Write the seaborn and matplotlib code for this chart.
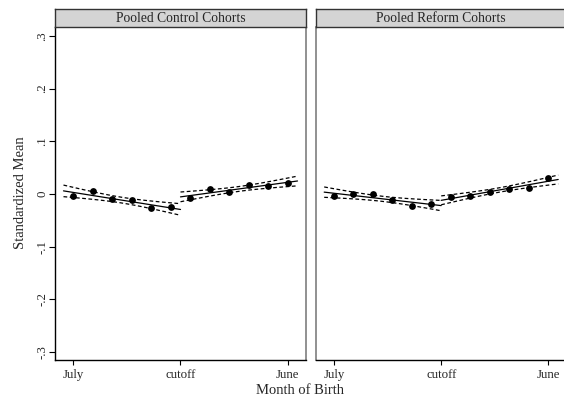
import numpy as np
import pandas as pd
import matplotlib
matplotlib.use("Agg")
import matplotlib.pyplot as plt
import seaborn as sns

sns.set_theme(style="white")
plt.rcParams["font.family"] = ["Liberation Serif", "DejaVu Serif"]

# ---- data ----
months = [1, 2, 3, 4, 5, 6, 7, 8, 9, 10, 11, 12]
control_means = [-0.004, 0.006, -0.009, -0.011, -0.027, -0.025,
                 -0.008, 0.009, 0.003, 0.018, 0.016, 0.020]
reform_means = [-0.004, 0.000, 0.001, -0.012, -0.022, -0.018,
                -0.005, -0.004, 0.004, 0.010, 0.011, 0.031]
panel_titles = ["Pooled Control Cohorts", "Pooled Reform Cohorts"]
xtick_pos = [1, 6.5, 12]
xtick_labels = ["July", "cutoff", "June"]
ytick_pos = [-0.3, -0.2, -0.1, 0.0, 0.1, 0.2, 0.3]
ytick_labels = ["-.3", "-.2", "-.1", "0", ".1", ".2", ".3"]
cutoff = 6.5
seg_ranges = [(0.5, 6.5), (6.5, 12.5)]

W, H = 564, 403
fig = plt.figure(figsize=(W / 100, H / 100), dpi=100)


def fcoords(x0, y0, x1, y1):
    return [x0 / W, 1 - y1 / H, (x1 - x0) / W, (y1 - y0) / H]


def fit_segment(x, y, lo, hi):
    x = np.asarray(x, float)
    y = np.asarray(y, float)
    b, a = np.polyfit(x, y, 1)
    res = y - (a + b * x)
    s = np.sqrt(np.sum(res ** 2) / (len(x) - 2))
    xm = x.mean()
    sxx = np.sum((x - xm) ** 2)
    xs = np.linspace(lo, hi, 60)
    yh = a + b * xs
    se = s * np.sqrt(1 / len(x) + (xs - xm) ** 2 / sxx)
    return xs, yh, yh - 1.96 * se, yh + 1.96 * se


panels = [(55.3, 305.7), (316.0, 566.4)]
datasets = [control_means, reform_means]

for i, ((x0, x1), vals, title) in enumerate(zip(panels, datasets, panel_titles)):
    ax = fig.add_axes(fcoords(x0, 27, x1, 360))
    df = pd.DataFrame({"month": months, "mean": vals})
    for lo, hi in seg_ranges:
        sub = df[(df["month"] > lo) & (df["month"] < hi)]
        xs, yh, ylo, yhi = fit_segment(sub["month"], sub["mean"], lo, hi)
        sns.lineplot(x=xs, y=yh, ax=ax, color="black", lw=0.9)
        ax.plot(xs, ylo, color="black", lw=0.9, ls=(0, (3, 2)))
        ax.plot(xs, yhi, color="black", lw=0.9, ls=(0, (3, 2)))
    sns.scatterplot(data=df, x="month", y="mean", ax=ax, color="black",
                    s=24, edgecolor="black", linewidth=0, zorder=5)
    ax.set_xlim(0.08, 12.92)
    ax.set_ylim(-0.315, 0.317)
    ax.set_xticks(xtick_pos)
    ax.set_xticklabels(xtick_labels, fontsize=9.3)
    ax.set_xlabel("")
    ax.set_ylabel("")
    ax.tick_params(axis="x", direction="out", length=3.8, width=0.8,
                   color="black", pad=3, bottom=True)
    if i == 0:
        ax.set_yticks(ytick_pos)
        ax.set_yticklabels(ytick_labels, fontsize=9.3, rotation=90, va="center")
        ax.tick_params(axis="y", direction="out", length=4, width=0.8,
                       color="black", pad=1.2, left=True)
        ax.spines["left"].set_color("black")
        ax.spines["right"].set_color("#888888")
    else:
        ax.set_yticks([])
        ax.spines["left"].set_color("#888888")
        ax.spines["right"].set_color("#888888")
    ax.spines["bottom"].set_color("black")
    ax.spines["top"].set_visible(False)
    for sp in ax.spines.values():
        sp.set_linewidth(1.0)
    ax.spines["right"].set_linewidth(1.3)
    if i == 1:
        ax.spines["left"].set_linewidth(1.3)

    # strip title
    sax = fig.add_axes(fcoords(x0, 9, x1, 27))
    sax.set_facecolor("#d4d4d4")
    sax.set_xticks([])
    sax.set_yticks([])
    for sp in sax.spines.values():
        sp.set_color("#333333")
        sp.set_linewidth(1.0)
    sax.text(0.5, 0.5, title, ha="center", va="center", fontsize=9.8,
             transform=sax.transAxes)

fig.text(300 / W, 1 - 390 / H, "Month of Birth", ha="center", va="center",
         fontsize=10.5)
fig.text(21 / W, 1 - 193 / H, "Standardized Mean", ha="center", va="center",
         rotation=90, fontsize=10.5)

fig.savefig("out.png", dpi=100)
